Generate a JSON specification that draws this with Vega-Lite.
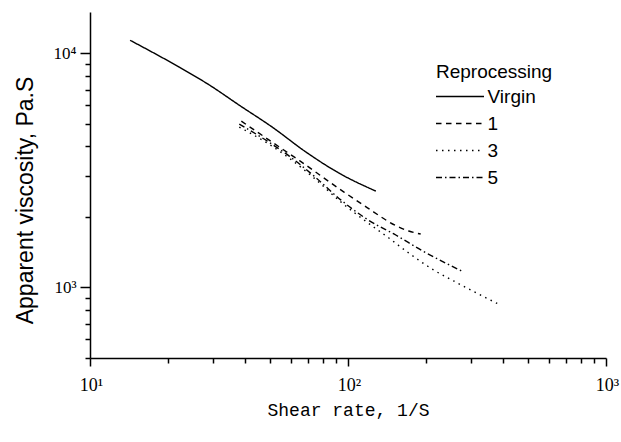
{
  "$schema": "https://vega.github.io/schema/vega-lite/v6.json",
  "width": 516,
  "height": 346,
  "autosize": {"type": "none"},
  "padding": {"left": 90, "top": 12, "right": 15, "bottom": 84},
  "background": "white",
  "config": {"view": {"stroke": null}},
  "data": {
    "values": [
      {"series": "Virgin", "rate": 14.3, "visc": 11360},
      {"series": "Virgin", "rate": 22.2, "visc": 8716},
      {"series": "Virgin", "rate": 29.1, "visc": 7304},
      {"series": "Virgin", "rate": 37.9, "visc": 6000},
      {"series": "Virgin", "rate": 50.9, "visc": 4835},
      {"series": "Virgin", "rate": 68.8, "visc": 3783},
      {"series": "Virgin", "rate": 92.3, "visc": 3078},
      {"series": "Virgin", "rate": 128.2, "visc": 2579},
      {"series": "1", "rate": 38.6, "visc": 5129},
      {"series": "1", "rate": 49.5, "visc": 4256},
      {"series": "1", "rate": 65.3, "visc": 3462},
      {"series": "1", "rate": 96.5, "visc": 2554},
      {"series": "1", "rate": 116.3, "visc": 2226},
      {"series": "1", "rate": 154.6, "visc": 1829},
      {"series": "1", "rate": 172, "visc": 1742},
      {"series": "1", "rate": 191.3, "visc": 1691},
      {"series": "3", "rate": 37.9, "visc": 4835},
      {"series": "3", "rate": 48.7, "visc": 4133},
      {"series": "3", "rate": 59.2, "visc": 3566},
      {"series": "3", "rate": 73.9, "visc": 2931},
      {"series": "3", "rate": 94.0, "visc": 2315},
      {"series": "3", "rate": 122.7, "visc": 1847},
      {"series": "3", "rate": 144, "visc": 1626},
      {"series": "3", "rate": 172, "visc": 1403},
      {"series": "3", "rate": 214.8, "visc": 1187},
      {"series": "3", "rate": 256.7, "visc": 1066},
      {"series": "3", "rate": 320.5, "visc": 938},
      {"series": "3", "rate": 382.8, "visc": 850},
      {"series": "5", "rate": 37.9, "visc": 4980},
      {"series": "5", "rate": 48.7, "visc": 4214},
      {"series": "5", "rate": 59.2, "visc": 3637},
      {"series": "5", "rate": 73.9, "visc": 2988},
      {"series": "5", "rate": 94.0, "visc": 2361},
      {"series": "5", "rate": 121.6, "visc": 1921},
      {"series": "5", "rate": 153.2, "visc": 1675},
      {"series": "5", "rate": 194.8, "visc": 1431},
      {"series": "5", "rate": 252, "visc": 1235},
      {"series": "5", "rate": 275.5, "visc": 1176}
    ]
  },
  "mark": {"type": "line", "interpolate": "monotone", "strokeWidth": 1.4, "color": "black"},
  "encoding": {
    "x": {
      "field": "rate",
      "type": "quantitative",
      "scale": {"type": "log", "domain": [10, 1000], "nice": false},
      "axis": {
        "values": [10, 20, 30, 40, 50, 60, 70, 80, 90, 100, 200, 300, 400, 500, 600, 700, 800, 900, 1000],
        "labelExpr": "datum.value == 10 ? '10¹' : datum.value == 100 ? '10²' : datum.value == 1000 ? '10³' : ''",
        "tickSize": {"condition": {"test": "datum.value == 10 || datum.value == 100 || datum.value == 1000", "value": 8}, "value": 5},
        "labelFont": "Liberation Serif",
        "labelFontSize": 18,
        "labelColor": "black",
        "labelPadding": 10,
        "labelOffset": 1,
        "labelOverlap": false,
        "labelFlush": false,
        "domainColor": "black",
        "domainWidth": 1.5,
        "tickColor": "black",
        "tickWidth": 1.5,
        "grid": false,
        "title": "Shear rate, 1/S",
        "titleFont": "Liberation Mono",
        "titleFontSize": 18,
        "titleFontWeight": "normal",
        "titleColor": "black",
        "titleBaseline": "alphabetic",
        "titleY": 57
      }
    },
    "y": {
      "field": "visc",
      "type": "quantitative",
      "scale": {"type": "log", "domain": [500, 15000], "nice": false},
      "axis": {
        "values": [500, 600, 700, 800, 900, 1000, 2000, 3000, 4000, 5000, 6000, 7000, 8000, 9000, 10000],
        "labelExpr": "datum.value == 1000 ? '10³' : datum.value == 10000 ? '10⁴' : ''",
        "tickSize": {"condition": {"test": "datum.value == 1000 || datum.value == 10000", "value": 10}, "value": 5},
        "labelFont": "Liberation Serif",
        "labelFontSize": 17,
        "labelColor": "black",
        "labelPadding": 4,
        "labelOverlap": false,
        "labelFlush": false,
        "domainColor": "black",
        "domainWidth": 1.5,
        "tickColor": "black",
        "tickWidth": 1.5,
        "grid": false,
        "title": "Apparent viscosity, Pa.S",
        "titleFont": "Liberation Sans",
        "titleFontSize": 23,
        "titleFontWeight": "normal",
        "titleColor": "black",
        "titleAngle": -90,
        "titleAlign": "center",
        "titleBaseline": "alphabetic",
        "titleX": -58,
        "titleY": 188
      }
    },
    "strokeDash": {
      "field": "series",
      "type": "nominal",
      "scale": {"domain": ["Virgin", "1", "3", "5"], "range": [[1, 0], [5.5, 4.5], [1.5, 4.5], [6, 3, 1.5, 3]]},
      "legend": {
        "title": "Reprocessing",
        "orient": "none",
        "legendX": 346,
        "legendY": 51,
        "titleFont": "Liberation Sans",
        "titleFontSize": 19,
        "titleFontWeight": "normal",
        "titleColor": "black",
        "titlePadding": 5,
        "labelFont": "Liberation Sans",
        "labelFontSize": 19,
        "labelColor": "black",
        "symbolType": "M-4,0H4",
        "symbolSize": 144,
        "symbolStrokeWidth": 1.4,
        "symbolStrokeColor": "black",
        "symbolOffset": 14.5,
        "labelOffset": 18,
        "rowPadding": 7
      }
    }
  }
}
